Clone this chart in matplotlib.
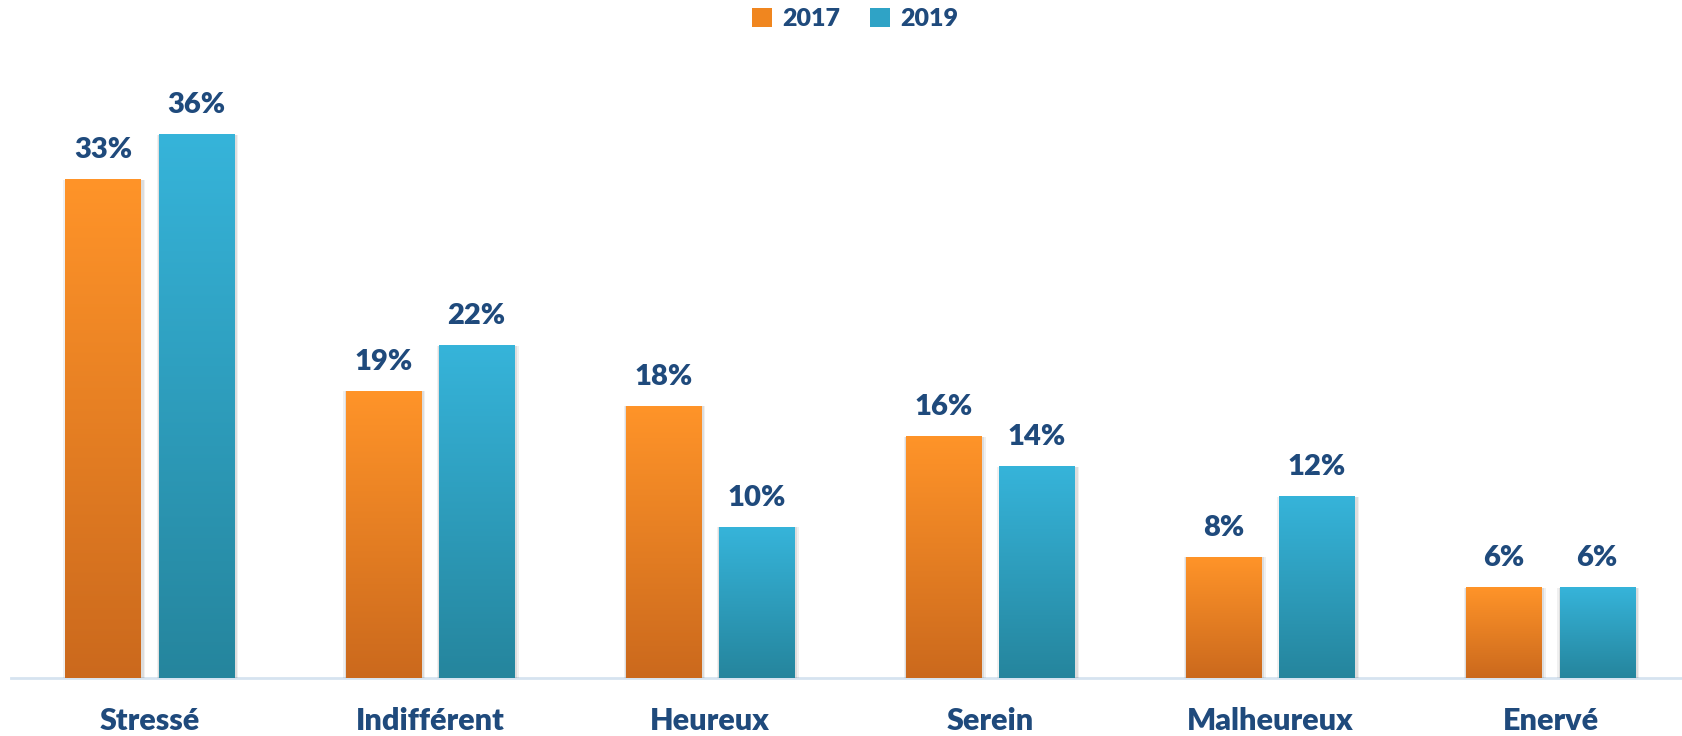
import numpy as np
import matplotlib.pyplot as plt
from matplotlib.patches import Patch
from matplotlib.colors import LinearSegmentedColormap

categories = ["Stressé", "Indifférent", "Heureux", "Serein", "Malheureux", "Enervé"]
vals_2017 = [33, 19, 18, 16, 8, 6]
vals_2019 = [36, 22, 10, 14, 12, 6]
series_names = ["2017", "2019"]

text_color = "#1F4A7C"
orange_cmap = LinearSegmentedColormap.from_list("o", ["#CB691D", "#FF9429"])
blue_cmap = LinearSegmentedColormap.from_list("b", ["#25859D", "#36B4DA"])

plt.rcParams['font.family'] = ['Lato', 'DejaVu Sans']

fig = plt.figure(figsize=(16.83, 7.36), dpi=100)
ax = fig.add_axes([0.0064, 0.0787, 0.9936, 0.8204])

x = np.arange(len(categories))
w = 0.268
off = 0.1667

def gradient_bars(xpos, vals, cmap):
    bars = ax.bar(xpos, vals, width=w, color="none", zorder=3)
    grad = np.linspace(0, 1, 256).reshape(-1, 1)
    for b in bars:
        x0, y0, bw, bh = b.get_x(), b.get_y(), b.get_width(), b.get_height()
        # soft shadow
        for k, a in [(0.012, 0.06), (0.007, 0.08)]:
            ax.bar(x0 + bw / 2 + 0.004, bh + 0.15, width=bw + 2 * k, bottom=-0.15,
                   color="#000000", alpha=a, zorder=2, linewidth=0)
        ax.imshow(grad, cmap=cmap, aspect="auto", origin="lower",
                  extent=(x0, x0 + bw, y0, y0 + bh), zorder=3)
    return bars

b1 = gradient_bars(x - off, vals_2017, orange_cmap)
b2 = gradient_bars(x + off, vals_2019, blue_cmap)

for bars, vals in [(b1, vals_2017), (b2, vals_2019)]:
    for b, v in zip(bars, vals):
        ax.text(b.get_x() + b.get_width() / 2, v + 1.1, f"{v}%", ha="center", va="bottom",
                fontsize=21, fontweight="heavy", color=text_color)

ax.set_xlim(-0.496, 5.473)
ax.set_ylim(0, 40)
ax.set_xticks(x)
ax.set_xticklabels(categories, fontsize=22, fontweight="heavy", color=text_color)
ax.tick_params(axis="x", length=0, pad=21)
ax.set_yticks([])
for s in ["top", "right", "left"]:
    ax.spines[s].set_visible(False)
ax.spines["bottom"].set_color("#D6E3F0")
ax.spines["bottom"].set_linewidth(2)
ax.spines["bottom"].set_zorder(1)

handles = [Patch(facecolor="#F0861F", label=series_names[0]),
           Patch(facecolor="#2FA3C6", label=series_names[1])]
leg = fig.legend(handles=handles, loc="center", bbox_to_anchor=(0.508, 0.974), ncol=2,
                 frameon=False, handlelength=0.8, handleheight=0.8, handletextpad=0.4,
                 columnspacing=1.2, prop={"size": 18, "weight": "heavy"})
for t in leg.get_texts():
    t.set_color(text_color)

fig.savefig("out.png", dpi=100)
